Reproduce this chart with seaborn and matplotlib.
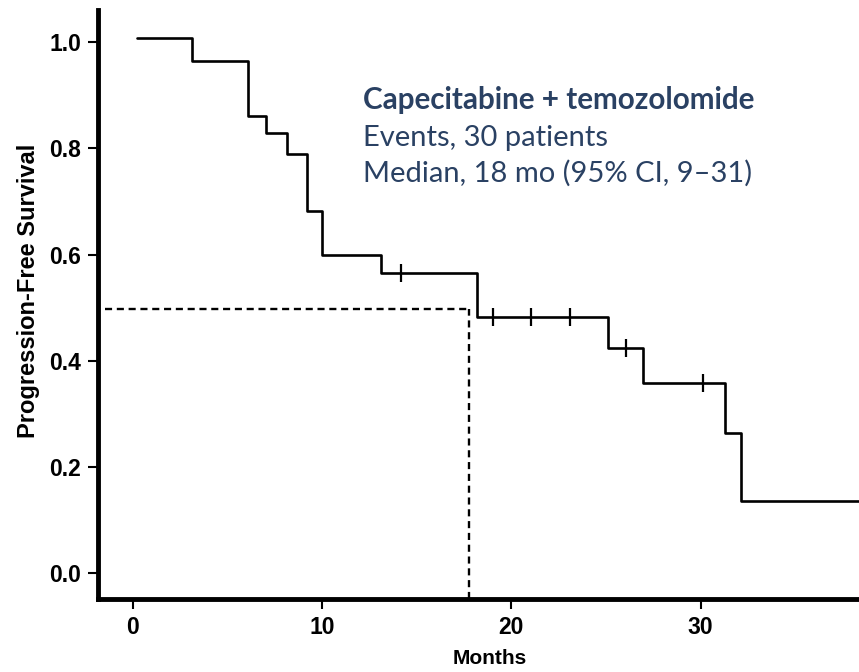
import numpy as np
import pandas as pd
import matplotlib
matplotlib.use("Agg")
import matplotlib.pyplot as plt
import seaborn as sns

# ---- data ----
step_times = [0.2, 3.15, 6.07, 7.06, 8.15, 9.19, 10.02, 13.12, 18.2, 25.09, 26.97, 31.29, 32.12, 38.5]
step_surv = [1.007, 0.964, 0.860, 0.829, 0.790, 0.682, 0.600, 0.565, 0.483, 0.425, 0.359, 0.265, 0.137, 0.137]
censor_times = [14.17, 19.05, 21.02, 23.12, 26.04, 30.11]
median_time = 17.78
median_surv = 0.498
x_ticks = [0, 10, 20, 30]
y_ticks = [0.0, 0.2, 0.4, 0.6, 0.8, 1.0]
title_line = "Capecitabine + temozolomide"
info_lines = ["Events, 30 patients", "Median, 18 mo (95% CI, 9\u201331)"]
x_label = "Months"
y_label = "Progression-Free Survival"

sns.set_theme(style="white")
plt.rcParams["font.family"] = ["Liberation Sans", "DejaVu Sans"]
plt.rcParams["text.color"] = "black"
plt.rcParams["axes.labelcolor"] = "black"
plt.rcParams["xtick.color"] = "black"
plt.rcParams["ytick.color"] = "black"

fig = plt.figure(figsize=(8.59, 6.72), dpi=100)
ax = fig.add_axes([97.7 / 859, 1 - 599 / 672, 1 - 97.7 / 859, (599 - 10) / 672])

df = pd.DataFrame({"t": step_times, "s": step_surv})
sns.lineplot(data=df, x="t", y="s", drawstyle="steps-post", estimator=None,
             color="black", linewidth=1.9, ax=ax)

# censor marks on the step function
idx = np.searchsorted(np.array(step_times), np.array(censor_times), side="right") - 1
cens_df = pd.DataFrame({"t": censor_times, "s": np.array(step_surv)[idx]})
sns.scatterplot(data=cens_df, x="t", y="s", marker="|", s=160, color="black",
                linewidth=1.6, ax=ax, zorder=5)

xmin, xmax = -1.85, 38.37
ymin, ymax = -0.048, 1.06
ax.set_xlim(xmin, xmax)
ax.set_ylim(ymin, ymax)

# median dashed guide
ax.plot([-1.45, median_time], [median_surv, median_surv], color="black",
        linewidth=1.7, linestyle=(0, (3, 2)))
ax.plot([median_time, median_time], [ymin, median_surv], color="black",
        linewidth=1.7, linestyle=(0, (3, 2)))

ax.set_xticks(x_ticks)
ax.set_xticklabels([str(v) for v in x_ticks])
ax.set_yticks(y_ticks)
ax.set_yticklabels([f"{v:.1f}" for v in y_ticks])
for lab in ax.get_xticklabels() + ax.get_yticklabels():
    lab.set_fontweight("bold")
    lab.set_fontsize(16.5)
    lab.set_color("black")
ax.tick_params(axis="both", direction="out", length=7, width=1.5, color="black",
               pad=5, bottom=True, left=True)

for side in ["top", "right"]:
    ax.spines[side].set_visible(False)
for side in ["left", "bottom"]:
    ax.spines[side].set_linewidth(3.5)
    ax.spines[side].set_color("black")

ax.set_xlabel(x_label, fontsize=15, fontweight="bold", color="black")
ax.set_ylabel(y_label, fontsize=17, fontweight="bold", color="black")
ax.xaxis.set_label_coords((490 - 97.7) / (859 - 97.7), -(649 - 599) / 589)
ax.yaxis.set_label_coords(-(97.7 - 29) / (859 - 97.7), (599 - 291) / 589)
ax.yaxis.label.set_verticalalignment("center")

navy = "#2a4163"
fig.text(363 / 859, 1 - 109 / 672, title_line, fontsize=21.3, fontweight="bold",
         color=navy, family=["Lato", "DejaVu Sans"], va="baseline")
fig.text(363 / 859, 1 - 146 / 672, info_lines[0], fontsize=21,
         color=navy, family=["Lato", "DejaVu Sans"], va="baseline")
fig.text(363 / 859, 1 - 182 / 672, info_lines[1], fontsize=21,
         color=navy, family=["Lato", "DejaVu Sans"], va="baseline")

fig.savefig("out.png", dpi=100)
